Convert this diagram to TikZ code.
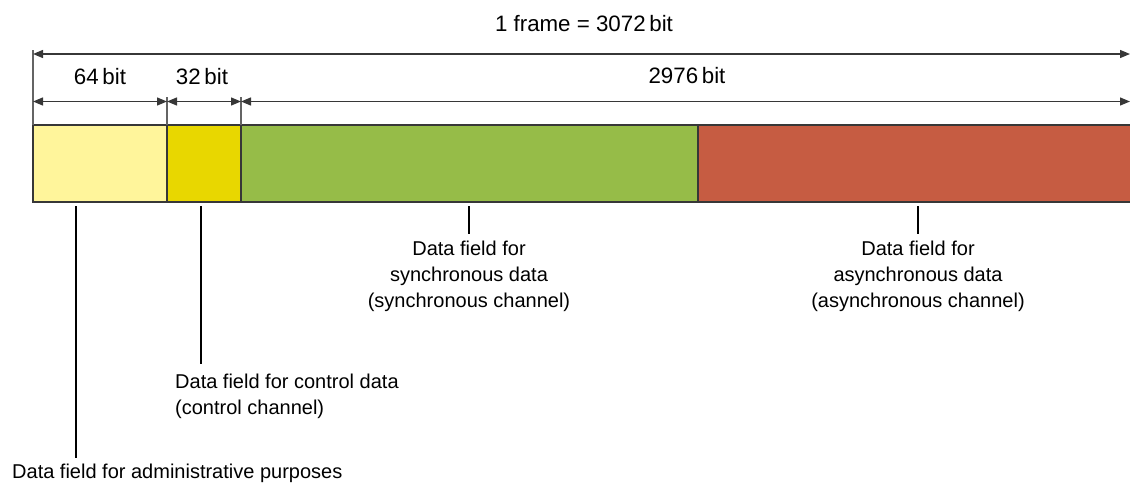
\documentclass[tikz,border=0pt]{standalone}
\usepackage{fontspec}
\setmainfont{Liberation Sans}
\usetikzlibrary{arrows.meta}
\definecolor{lightyel}{RGB}{255,245,155}
\definecolor{yel}{RGB}{232,215,0}
\definecolor{grn}{RGB}{150,188,72}
\definecolor{redf}{RGB}{198,92,66}
\definecolor{linegray}{RGB}{55,55,55}
\definecolor{tickgray}{RGB}{100,100,100}
\tikzset{
  toplabel/.style={font=\fontsize{22.3}{27}\selectfont, inner sep=0pt, anchor=base},
  botlabel/.style={font=\fontsize{20}{26}\selectfont, inner sep=0pt, align=center},
  dim/.style={draw=linegray, line width=1.3pt, {Triangle[length=10pt,width=8pt]}-{Triangle[length=10pt,width=8pt]}},
  tick/.style={draw=tickgray, line width=1.2pt},
  barline/.style={draw=linegray, line width=2pt},
  divider/.style={draw=linegray, line width=1.5pt},
  leader/.style={draw=black, line width=2pt}
}
\begin{document}
\begin{tikzpicture}[x=1pt,y=-1pt]
\useasboundingbox (0,0) rectangle (1130,485);
% key coordinates
\coordinate (bTL) at (33,125);
\coordinate (bBL) at (33,202);
\coordinate (bTR) at (1130,125);
\coordinate (bBR) at (1130,202);
\coordinate (d1t) at (167,125);
\coordinate (d1b) at (167,202);
\coordinate (d2t) at (241,125);
\coordinate (d2b) at (241,202);
\coordinate (d3t) at (698,125);
\coordinate (d3b) at (698,202);
% fields
\fill[lightyel] (bTL) rectangle (d1b);
\fill[yel] (d1t) rectangle (d2b);
\fill[grn] (d2t) rectangle (d3b);
\fill[redf] (d3t) rectangle (bBR);
\draw[divider] (d1t) -- (d1b);
\draw[divider] (d2t) -- (d2b);
\draw[divider] (d3t) -- (d3b);
\draw[barline] (bTR) -- (bTL) -- (bBL) -- (bBR);
% ticks
\coordinate (t0) at (33,50);
\coordinate (t1) at (167,97);
\coordinate (t2) at (241,97);
\draw[tick] (t0) -- (bTL);
\draw[tick] (t1) -- (d1t);
\draw[tick] (t2) -- (d2t);
% dimension arrows
\coordinate (a0l) at (33,54);
\coordinate (a0r) at (1130,54);
\coordinate (a1l) at (33,101.5);
\coordinate (a1m) at (167,101.5);
\coordinate (a2m) at (241,101.5);
\coordinate (a1r) at (1130,101.5);
\draw[dim] (a0l) -- (a0r);
\draw[dim] (a1l) -- (a1m);
\draw[dim] (a1m) -- (a2m);
\draw[dim] (a2m) -- (a1r);
% top labels
\node[toplabel] (frame) at (584,31) {1 frame = 3072\,bit};
\node[toplabel] (l64) at (100,84) {64\,bit};
\node[toplabel] (l32) at (202,84) {32\,bit};
\node[toplabel] (l2976) at (687,83) {2976\,bit};
% bottom labels
\node[botlabel, anchor=north] (sync) at (469,240.5) {Data field for\\synchronous data\\(synchronous channel)};
\node[botlabel, anchor=north] (async) at (918,240.5) {Data field for\\asynchronous data\\(asynchronous channel)};
\node[botlabel, anchor=north west, align=left] (ctrl) at (175,373.5) {Data field for control data\\(control channel)};
\node[botlabel, anchor=base west] (admin) at (12,478) {Data field for administrative purposes};
% leaders
\coordinate (sA) at (76,206);
\coordinate (sC) at (200.7,206);
\coordinate (sS) at (469,206);
\coordinate (sR) at (918,206);
\draw[leader, shorten >=5pt] (sA) -- (sA |- admin.north);
\draw[leader, shorten >=10pt] (sC) -- (sC |- ctrl.north);
\draw[leader, shorten >=7pt] (sS) -- (sync.north);
\draw[leader, shorten >=7pt] (sR) -- (async.north);
\end{tikzpicture}
\end{document}
